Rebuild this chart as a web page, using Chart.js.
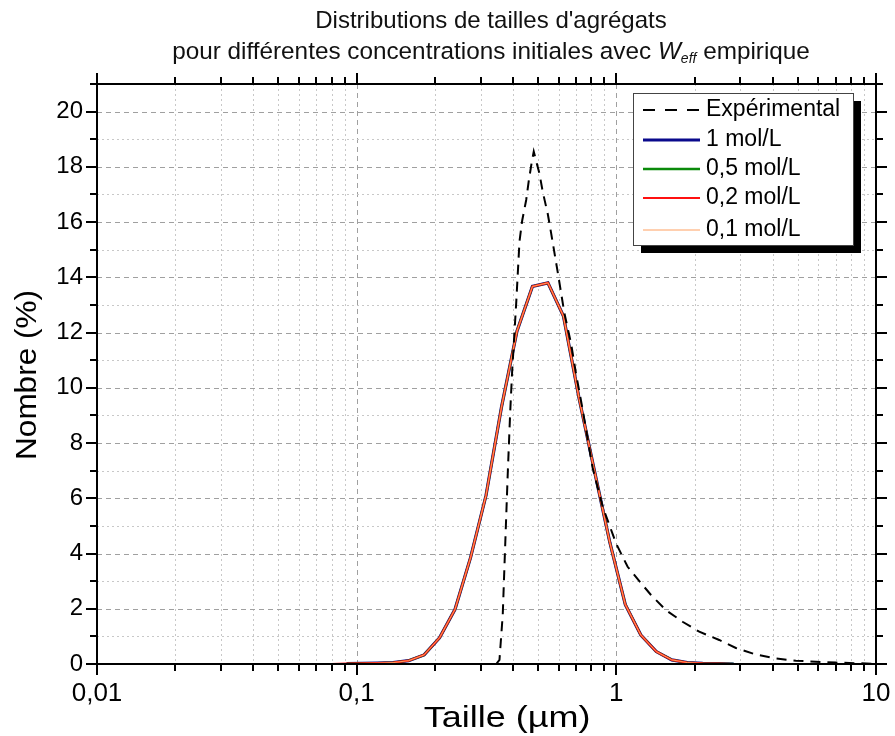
<!DOCTYPE html>
<html>
<head>
<meta charset="utf-8">
<script src="https://cdn.jsdelivr.net/npm/chart.js@4.4.1/dist/chart.umd.min.js"></script>
<style>
html,body{margin:0;padding:0;background:#ffffff;}
#wrap{width:895px;height:736px;position:relative;}
</style>
</head>
<body>
<div id="wrap"><canvas id="c" width="895" height="736"></canvas></div>
<script>
// ---------- DATA ----------
const titleLine1 = "Distributions de tailles d'agrégats";
const titleLine2a = "pour différentes concentrations initiales avec ";
const titleLine2W = "W";
const titleLine2Sub = "eff";
const titleLine2b = " empirique";
const xAxisTitle = "Taille (µm)";
const yAxisTitle = "Nombre (%)";

const xMajorTicks = [0.01, 0.1, 1, 10];
const xTickLabels = ["0,01", "0,1", "1", "10"];
const yTicks = [0, 2, 4, 6, 8, 10, 12, 14, 16, 18, 20];

const seriesNames = ["Expérimental", "1 mol/L", "0,5 mol/L", "0,2 mol/L", "0,1 mol/L"];

// simulated size classes (µm)
const sizes = [0.0798, 0.0915, 0.105, 0.1204, 0.1381, 0.1585, 0.1818, 0.2085, 0.2392, 0.2745,
  0.3148, 0.3612, 0.4143, 0.4753, 0.5452, 0.6255, 0.7176, 0.8232, 0.9441, 1.083,
  1.243, 1.425, 1.635, 1.876, 2.151, 2.468, 2.831, 3.25, 3.73, 4.28,
  4.91, 5.63, 6.46, 7.41, 8.5, 9.75];

const conc1 = [null, 0.01, 0.02, 0.03, 0.05, 0.12, 0.33, 0.95, 1.98, 3.85,
  6.1, 9.3, 12.05, 13.67, 13.8, 12.6, 9.65, 7.0, 4.4, 2.15,
  1.05, 0.45, 0.15, 0.05, 0.02, 0.01, 0, null, null, null,
  null, null, null, null, null, null];
const conc05 = [null, 0.01, 0.02, 0.03, 0.05, 0.12, 0.33, 0.95, 1.98, 3.85,
  6.1, 9.3, 12.05, 13.67, 13.8, 12.6, 9.65, 7.0, 4.4, 2.15,
  1.05, 0.45, 0.15, 0.05, 0.02, 0.01, 0, null, null, null,
  null, null, null, null, null, null];
const conc02 = [0, 0.01, 0.02, 0.03, 0.05, 0.12, 0.33, 0.95, 1.98, 3.85,
  6.1, 9.3, 12.05, 13.67, 13.8, 12.6, 9.65, 7.0, 4.4, 2.15,
  1.05, 0.45, 0.15, 0.05, 0.02, 0.01, 0, 0, 0, 0,
  0, 0, 0, 0, 0, 0];
const conc01 = [0, 0.01, 0.02, 0.03, 0.05, 0.12, 0.33, 0.95, 1.98, 3.85,
  6.1, 9.3, 12.05, 13.67, 13.8, 12.6, 9.65, 7.0, 4.4, 2.15,
  1.05, 0.45, 0.15, 0.05, 0.02, 0.01, 0, 0, 0, 0,
  0, 0, 0, 0, 0, 0];

// experimental distribution
const expSizes = [0.3446, 0.3548, 0.3653, 0.3742, 0.3818, 0.3901, 0.397, 0.4114, 0.4237, 0.434,
  0.4496, 0.4601, 0.4723, 0.4808, 0.5056, 0.5206, 0.5443, 0.5609, 0.5944, 0.631,
  0.6695, 0.6998, 0.7421, 0.8104, 0.8857, 0.9973, 1.1055, 1.2263, 1.36, 1.553,
  1.799, 2.086, 2.49, 2.887, 3.423, 4.113, 4.912, 5.865, 6.998, 8.356, 9.65];
const expValues = [0, 0.15, 1.8, 4.6, 6.9, 9.1, 10.6, 13.05, 15.3, 16.06,
  16.8, 17.5, 18.17, 18.55, 17.76, 17.1, 16.3, 15.6, 14.2, 12.7,
  11.6, 10.5, 9.2, 7.1, 5.7, 4.37, 3.52, 3.0, 2.5, 1.95,
  1.53, 1.17, 0.87, 0.58, 0.35, 0.2, 0.12, 0.08, 0.05, 0.03, 0.01];

// ---------- HELPERS ----------
const FONT = "'Liberation Sans', Arial, sans-serif";
function isDecade(v){ const l = Math.log10(v); return Math.abs(l - Math.round(l)) < 1e-9; }
const xAllTicks = [];
for (let i = 0; i < xMajorTicks.length - 1; i++) {
  for (let m = 1; m <= 9; m++) xAllTicks.push(+(xMajorTicks[i] * m).toPrecision(6));
}
xAllTicks.push(xMajorTicks[xMajorTicks.length - 1]);
const pts = (xs, ys) => xs.map((x, i) => ({x: x, y: ys[i]}));

const styles = [
  {color: '#000000', width: 2, dash: [10, 7]},
  {color: '#0a0a8c', width: 3.2, dash: []},
  {color: '#0a8a0a', width: 2.4, dash: []},
  {color: '#ff1010', width: 2.2, dash: []},
  {color: '#ffa060', width: 1.0, dash: []}
];

function stretchedText(ctx, text, x, y, font, sx, rot) {
  ctx.save();
  ctx.translate(x, y);
  if (rot) ctx.rotate(rot);
  ctx.scale(sx, 1);
  ctx.font = font;
  ctx.textAlign = 'center';
  ctx.textBaseline = 'middle';
  ctx.fillText(text, 0, 0);
  ctx.restore();
}

// ---------- PLUGINS ----------
const gridAxesPlugin = {
  id: 'gridAxes',
  beforeDatasetsDraw(chart) {
    const {ctx, chartArea: a, scales: {x, y}} = chart;
    ctx.save();
    ctx.lineWidth = 1;
    xAllTicks.forEach(v => {
      const px = Math.round(x.getPixelForValue(v)) + 0.5;
      if (px <= a.left + 1 || px >= a.right - 1) return;
      const major = isDecade(v);
      ctx.strokeStyle = major ? '#a0a0a0' : '#c8c8c8';
      ctx.setLineDash(major ? [5, 4] : [2, 3]);
      ctx.beginPath(); ctx.moveTo(px, a.top); ctx.lineTo(px, a.bottom); ctx.stroke();
    });
    for (let v = 1; v < 21; v++) {
      const py = Math.round(y.getPixelForValue(v)) + 0.5;
      const major = v % 2 === 0;
      ctx.strokeStyle = major ? '#a0a0a0' : '#c8c8c8';
      ctx.setLineDash(major ? [5, 4] : [2, 3]);
      ctx.beginPath(); ctx.moveTo(a.left, py); ctx.lineTo(a.right, py); ctx.stroke();
    }
    ctx.restore();
  },
  afterDatasetsDraw(chart) {
    const {ctx, chartArea: a, scales: {x, y}} = chart;
    ctx.save();
    ctx.setLineDash([]);
    ctx.strokeStyle = '#000';
    ctx.lineWidth = 2;
    ctx.strokeRect(a.left, a.top, a.right - a.left, a.bottom - a.top);
    const MJ = 11, MN = 7;
    xAllTicks.forEach(v => {
      const px = Math.round(x.getPixelForValue(v));
      const len = isDecade(v) ? MJ : MN;
      ctx.beginPath();
      ctx.moveTo(px, a.bottom); ctx.lineTo(px, a.bottom + len);
      ctx.moveTo(px, a.top); ctx.lineTo(px, a.top - len);
      ctx.stroke();
    });
    for (let v = 0; v <= 21; v++) {
      const py = Math.round(y.getPixelForValue(v));
      const len = v % 2 === 0 ? MJ : MN;
      ctx.beginPath();
      ctx.moveTo(a.left, py); ctx.lineTo(a.left - len, py);
      ctx.moveTo(a.right, py); ctx.lineTo(a.right + len, py);
      ctx.stroke();
    }
    ctx.restore();
  },
  afterDraw(chart) {
    const {ctx} = chart;
    ctx.save();
    // ---- title ----
    ctx.fillStyle = '#111';
    ctx.textBaseline = 'middle';
    ctx.textAlign = 'center';
    const cx = 491;
    ctx.font = '24px ' + FONT;
    ctx.fillText(titleLine1, cx, 21);
    ctx.textAlign = 'left';
    const fN = '24.3px ' + FONT, fI = 'italic 24.3px ' + FONT, fS = 'italic 14px ' + FONT;
    ctx.font = fN; const w1 = ctx.measureText(titleLine2a).width; const w4 = ctx.measureText(titleLine2b).width;
    ctx.font = fI; const w2 = ctx.measureText(titleLine2W).width;
    ctx.font = fS; const w3 = ctx.measureText(titleLine2Sub).width;
    let sx = cx - (w1 + w2 + w3 + w4) / 2;
    const ty = 52;
    ctx.font = fN; ctx.fillText(titleLine2a, sx, ty); sx += w1;
    ctx.font = fI; ctx.fillText(titleLine2W, sx, ty); sx += w2;
    ctx.font = fS; ctx.fillText(titleLine2Sub, sx, ty + 7); sx += w3;
    ctx.font = fN; ctx.fillText(titleLine2b, sx, ty);

    // ---- axis titles ----
    ctx.fillStyle = '#000';
    stretchedText(ctx, xAxisTitle, 507, 719, '30px ' + FONT, 1.2, 0);
    stretchedText(ctx, yAxisTitle, 28, 375, '30px ' + FONT, 1.05, -Math.PI / 2);

    // ---- legend ----
    const L = 633, T = 93, R = 853, B = 245, off = 8;
    ctx.fillStyle = '#000';
    ctx.fillRect(L + off, T + off, R - L, B - T);
    ctx.fillStyle = '#fff';
    ctx.fillRect(L, T, R - L, B - T);
    ctx.strokeStyle = '#444';
    ctx.lineWidth = 1;
    ctx.strokeRect(L + 0.5, T + 0.5, R - L, B - T);
    const rowsY = [110, 140, 169, 198, 230];
    ctx.font = '23px ' + FONT;
    ctx.textBaseline = 'middle';
    ctx.textAlign = 'left';
    seriesNames.forEach((name, i) => {
      const st = styles[i];
      ctx.strokeStyle = st.color;
      ctx.lineWidth = st.width;
      ctx.setLineDash(i === 0 ? [12, 10] : []);
      ctx.beginPath(); ctx.moveTo(643, rowsY[i]); ctx.lineTo(700, rowsY[i]); ctx.stroke();
      ctx.setLineDash([]);
      ctx.fillStyle = '#000';
      ctx.fillText(name, 706, rowsY[i]);
    });
    ctx.restore();
  }
};

// ---------- CHART ----------
const ySeries = [expValues, conc1, conc05, conc02, conc01];
const xSeries = [expSizes, sizes, sizes, sizes, sizes];
const drawOrder = [0, 4, 3, 2, 1];
const datasets = seriesNames.map((name, i) => ({
  label: name,
  data: pts(xSeries[i], ySeries[i]),
  showLine: true,
  borderColor: styles[i].color,
  backgroundColor: styles[i].color,
  borderWidth: styles[i].width,
  borderDash: styles[i].dash,
  pointRadius: 0,
  fill: false,
  tension: 0,
  spanGaps: false,
  order: drawOrder[i]
}));

new Chart(document.getElementById('c'), {
  type: 'scatter',
  data: {datasets: datasets},
  options: {
    responsive: false,
    animation: false,
    devicePixelRatio: 1,
    layout: {padding: {top: 84, right: 19, left: 0, bottom: 0}},
    plugins: {legend: {display: false}, tooltip: {enabled: false}, title: {display: false}},
    scales: {
      x: {
        type: 'logarithmic',
        min: 0.01, max: 10,
        afterBuildTicks: s => { s.ticks = xAllTicks.map(v => ({value: v, major: isDecade(v)})); },
        afterFit: s => { s.height = 72; s.paddingLeft = 0; s.paddingRight = 0; },
        grid: {display: false, drawTicks: false},
        border: {display: false},
        ticks: {
          autoSkip: false, maxRotation: 0, padding: 14,
          color: '#000', font: {family: FONT, size: 26},
          callback: (v) => { const k = xMajorTicks.findIndex(m => Math.abs(m - v) / m < 1e-9); return k >= 0 ? xTickLabels[k] : ''; }
        },
        title: {display: false}
      },
      y: {
        type: 'linear',
        min: 0, max: 21,
        afterBuildTicks: s => { s.ticks = yTicks.map(v => ({value: v})); },
        afterFit: s => { s.width = 97; s.paddingTop = 0; s.paddingBottom = 0; },
        grid: {display: false, drawTicks: false},
        border: {display: false},
        ticks: {padding: 14, color: '#000', font: {family: FONT, size: 24}, callback: v => String(v)},
        title: {display: false}
      }
    }
  },
  plugins: [gridAxesPlugin]
});
</script>
</body>
</html>
